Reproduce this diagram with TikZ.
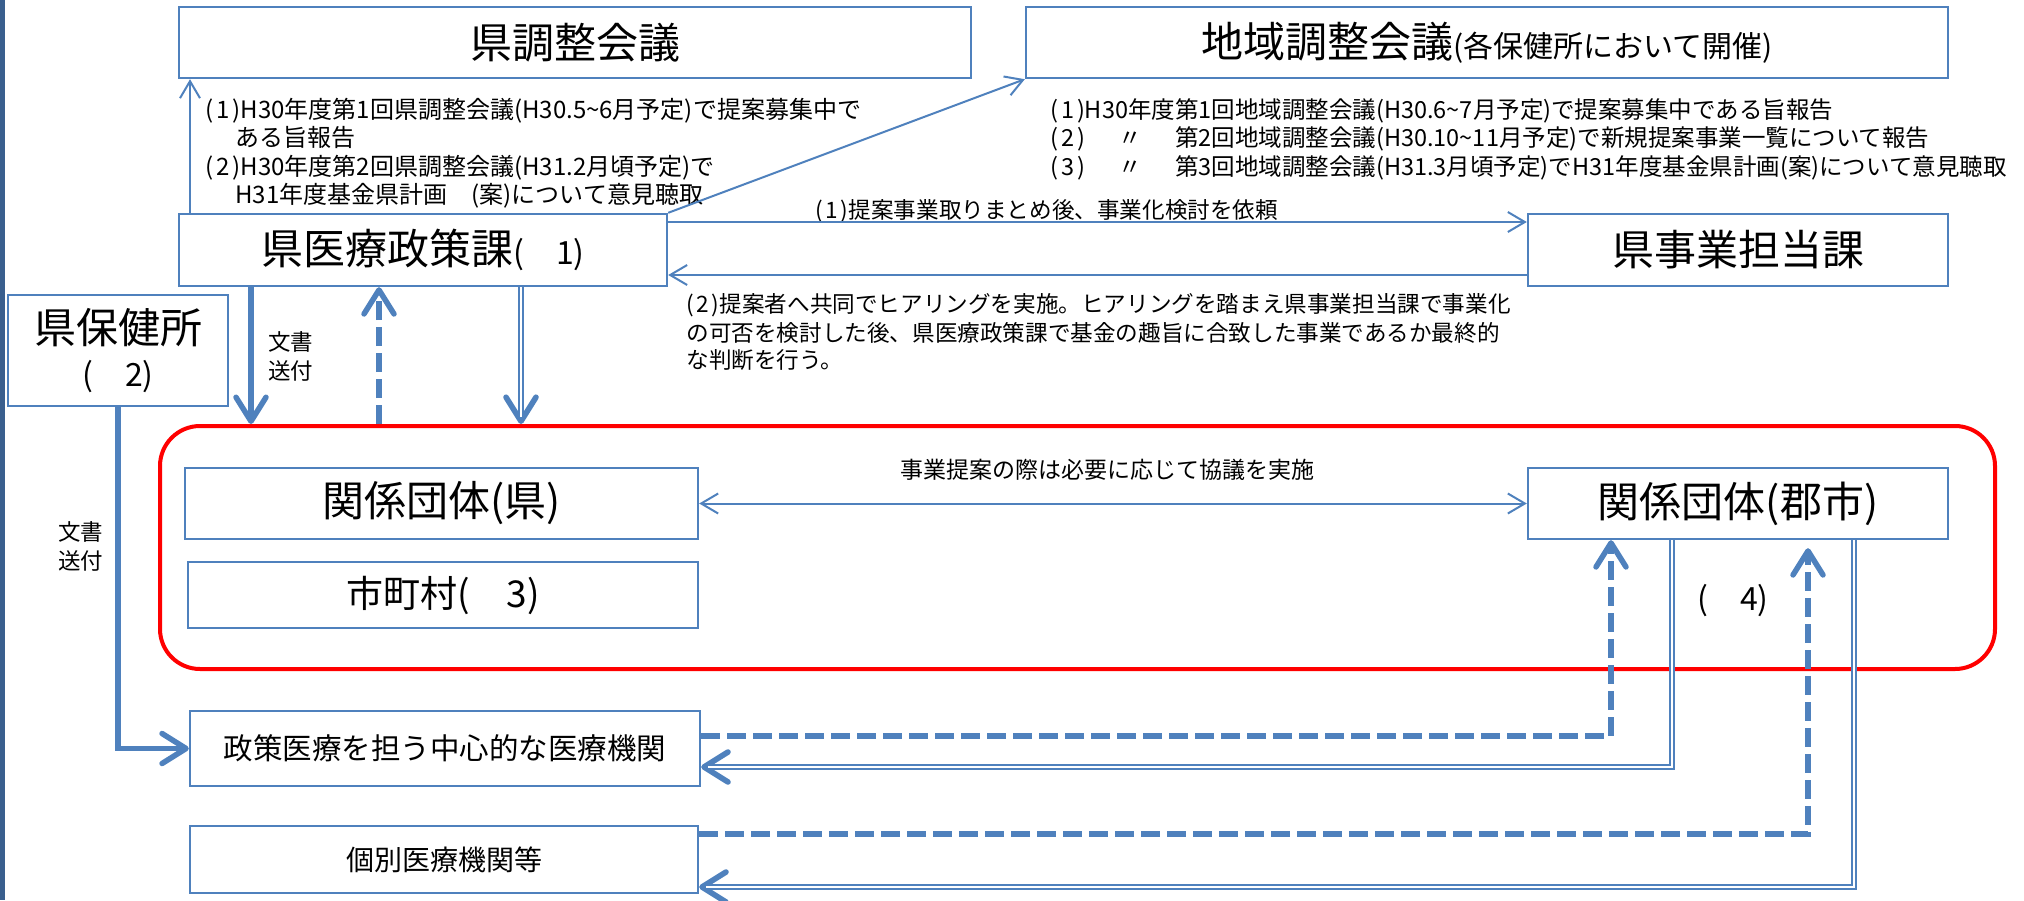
\documentclass[tikz,border=0pt]{standalone}
\usepackage{fontspec}
\setmainfont{Noto Sans CJK JP}
\usetikzlibrary{arrows.meta}
\definecolor{ob}{HTML}{4F81BD}
\definecolor{barblue}{HTML}{3A5F8E}
\definecolor{rd}{HTML}{FF0000}
\newcommand\myfs[2]{\fontsize{#1}{#2}\selectfont}
\newcommand\pn[1]{(\kern.12em#1\kern.12em)}
\newcommand\dittomark{\setbox0\hbox{H30年度}\hbox to \wd0{\hss〃\hss}}
\tikzset{
  box/.style={draw=ob, line width=1.2pt, inner sep=0pt, fill=white},
  small/.style={font=\myfs{12pt}{14pt}, anchor=base west, inner sep=0pt},
  smallb/.style={font=\myfs{11.75pt}{14pt}, anchor=base west, inner sep=0pt},
  mid/.style={font=\myfs{11.3pt}{14pt}, anchor=base west, inner sep=0pt},
  thinarr/.style={draw=ob, line width=1pt, -{Straight Barb[length=8.5pt,width=10pt]}},
  thickarr/.style={draw=ob, line width=2.75pt, -{Straight Barb[length=12pt,width=15pt,round]}},
  dashpat/.style={dash pattern=on 9.5pt off 3.5pt},
  dblout/.style={draw=ob, line width=2.8pt, line join=miter, -{Straight Barb[length=12pt,width=15pt,round]}},
  dblin/.style={draw=white, line width=1pt, line join=miter, shorten >=3.5pt},
}
\begin{document}
\begin{tikzpicture}[x=0.5pt, y=-0.5pt]
\path[use as bounding box] (0,0) rectangle (2024,900);
\fill[barblue] (0,0) rectangle (4.5,900);

% red group
\node[draw=rd, line width=2pt, rounded corners=20pt, minimum width=917.5pt, minimum height=121.5pt, inner sep=0pt] (grp) at (1077.5,547.5) {};

% boxes
\node[box, minimum width=396pt, minimum height=35.5pt] (kenchosei) at (575,42.5) {\myfs{21pt}{25pt}県調整会議};
\node[box, minimum width=461pt, minimum height=35.5pt] (chiiki) at (1487,42.5) {\myfs{21pt}{25pt}地域調整会議{\myfs{15pt}{18pt}(各保健所において開催)}};
\node[box, minimum width=244pt, minimum height=36pt] (iryo) at (423,250) {\myfs{21pt}{25pt}県医療政策課{\myfs{16pt}{18pt}(　1)}};
\node[box, minimum width=210pt, minimum height=36pt] (jigyo) at (1738,250) {\myfs{21pt}{25pt}県事業担当課};
\node[box, minimum width=110pt, minimum height=55.5pt, align=center, font=\myfs{21pt}{21.5pt}] (hokenjo) at (118,350.5) {県保健所\\{\myfs{16pt}{21.5pt}(　2)}};
\node[box, minimum width=256.5pt, minimum height=35.5pt] (kenkankei) at (441.5,503.5) {\myfs{21pt}{25pt}関係団体(県)};
\node[box, minimum width=255pt, minimum height=33pt] (shichoson) at (443,595) {\myfs{18.5pt}{22pt}市町村(　3)};
\node[box, minimum width=210pt, minimum height=35.5pt] (gunshi) at (1738,503.5) {\myfs{21pt}{25pt}関係団体(郡市)};
\node[box, minimum width=255pt, minimum height=37.5pt] (seisaku) at (445,748.5) {\myfs{14.75pt}{18pt}政策医療を担う中心的な医療機関};
\node[box, minimum width=254pt, minimum height=33.5pt] (kobetsu) at (444,859.5) {\myfs{14pt}{18pt}個別医療機関等};

% text blocks
\node[small] (k1) at (205,118) {\pn{1}H30年度第1回県調整会議(H30.5\textasciitilde 6月予定)で提案募集中で};
\node[small] (k2) at (235,146) {ある旨報告};
\node[small] (k3) at (205,175) {\pn{2}H30年度第2回県調整会議(H31.2月頃予定)で};
\node[small] (k4) at (235,203) {H31年度基金県計画　(案)について意見聴取};

\node[smallb] (c1) at (1050,118) {\pn{1}H30年度第1回地域調整会議(H30.6\textasciitilde 7月予定)で提案募集中である旨報告};
\node[smallb] (c2) at (1050,146) {\pn{2}\dittomark 第2回地域調整会議(H30.10\textasciitilde 11月予定)で新規提案事業一覧について報告};
\node[smallb] (c3) at (1050,175) {\pn{3}\dittomark 第3回地域調整会議(H31.3月頃予定)でH31年度基金県計画(案)について意見聴取};

\node[mid] (l1) at (815,218) {\pn{1}提案事業取りまとめ後、事業化検討を依頼};
\node[mid] (l2a) at (686,312) {\pn{2}提案者へ共同でヒアリングを実施。ヒアリングを踏まえ県事業担当課で事業化};
\node[mid] (l2b) at (686,341) {の可否を検討した後、県医療政策課で基金の趣旨に合致した事業であるか最終的};
\node[mid] (l2c) at (686,368) {な判断を行う。};
\node[font=\myfs{11.5pt}{14pt}, inner sep=0pt] (kyogi) at (1107,470) {事業提案の際は必要に応じて協議を実施};

\node[font=\myfs{11.25pt}{14.5pt}, align=left, anchor=west, inner sep=0pt] (bun1) at (268,356.5) {文書\\送付};
\node[font=\myfs{11.25pt}{14.5pt}, align=left, anchor=west, inner sep=0pt] (bun2) at (58,546) {文書\\送付};
\node[font=\myfs{16pt}{18pt}, anchor=west, inner sep=0pt] (n4) at (1697,601) {(　4)};

% helper coordinates
\coordinate (cA) at (190,0);
\coordinate (cB) at (0,222);
\coordinate (cC) at (0,275);
\coordinate (cD) at (251,0);
\coordinate (cE) at (379,0);
\coordinate (cF) at (521,0);
\coordinate (cG) at (1611,736);
\coordinate (cH) at (1672,767);
\coordinate (cI) at (1808,834);
\coordinate (cJ) at (1854,887);

% connectors
\draw[thinarr] (iryo.north -| cA) -- (kenchosei.south -| cA);
\draw[thinarr] (iryo.north east) -- (chiiki.south west);
\draw[thinarr] (iryo.east |- cB) -- (jigyo.west |- cB);
\draw[thinarr] (jigyo.west |- cC) -- (iryo.east |- cC);
\draw[thinarr, {Straight Barb[length=8.5pt,width=10pt]}-{Straight Barb[length=8.5pt,width=10pt]}] (kenkankei.east) -- (gunshi.west);

\draw[thickarr] (iryo.south -| cD) -- (grp.north -| cD);
\draw[thickarr, dashpat] (grp.north -| cE) -- (iryo.south -| cE);
\draw[dblout] (iryo.south -| cF) -- (grp.north -| cF);
\draw[dblin] (iryo.south -| cF) -- (grp.north -| cF);

\draw[thickarr, line join=miter] (hokenjo.south) |- (seisaku.west);

\draw[thickarr, dashpat] (seisaku.east |- cG) -- (cG) -- (gunshi.south -| cG);
\draw[dblout] (gunshi.south -| cH) -- (cH) -- (seisaku.east |- cH);
\draw[dblin] (gunshi.south -| cH) -- (cH) -- (seisaku.east |- cH);

\draw[thickarr, dashpat, shorten >=4pt] (kobetsu.east |- cI) -- (cI) -- (gunshi.south -| cI);
\draw[dblout] (gunshi.south -| cJ) -- (cJ) -- (kobetsu.east |- cJ);
\draw[dblin] (gunshi.south -| cJ) -- (cJ) -- (kobetsu.east |- cJ);
\end{tikzpicture}
\end{document}
